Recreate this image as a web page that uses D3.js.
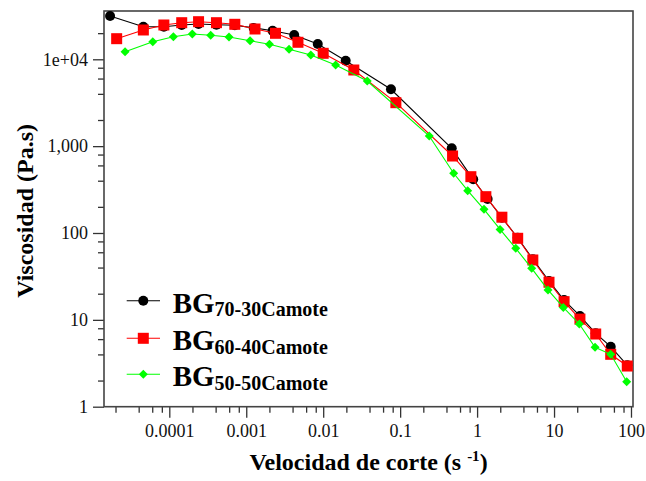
<!DOCTYPE html>
<html><head><meta charset="utf-8">
<script src="https://cdn.jsdelivr.net/npm/d3@7"></script>
<style>
body{margin:0;background:#fff;}
text{font-family:"Liberation Serif","Times New Roman",serif;}
</style></head>
<body><svg id="c" width="646" height="481"></svg>
<script>
const seriesNames = ["70-30Camote", "60-40Camote", "50-50Camote"];
const shearBlack = [1.7e-5, 4.6e-5, 8.5e-5, 1.45e-4, 2.4e-4, 4.1e-4, 7.1e-4, 1.25e-3, 2.2e-3, 4.2e-3, 8.5e-3, 0.0196, 0.076, 0.468, 0.89, 1.37, 2.1, 3.37, 5.3, 8.6, 13.5, 21.7, 34.8, 54.5, 89.5];
const viscBlack  = [31500, 23700, 23700, 24800, 25500, 25000, 24700, 23000, 21340, 19050, 15000, 9640, 4515, 944, 415, 246, 150, 88, 50, 28, 16.9, 11.1, 7.0, 4.91, 3.0];
const shearRed = [2.07e-5, 4.6e-5, 8.5e-5, 1.45e-4, 2.4e-4, 4.1e-4, 7.1e-4, 1.3e-3, 2.4e-3, 4.7e-3, 0.01, 0.025, 0.088, 0.48, 0.83, 1.3, 2.1, 3.37, 5.3, 8.6, 13.5, 21.7, 34.8, 54.5, 89.5];
const viscRed  = [17270, 21750, 24830, 26390, 27100, 26390, 25290, 22330, 19920, 15700, 11720, 7530, 3165, 770, 445, 262, 152, 86.9, 48.9, 27.1, 16.2, 10.2, 6.87, 4.01, 2.94];
const shearGreen = [2.66e-5, 6.1e-5, 1.13e-4, 1.99e-4, 3.45e-4, 5.97e-4, 1.12e-3, 2.0e-3, 3.6e-3, 6.9e-3, 0.0145, 0.0374, 0.239, 0.496, 0.755, 1.23, 1.99, 3.18, 5.12, 8.34, 13.2, 21.3, 34.1, 54.5, 88];
const viscGreen  = [12240, 15950, 18200, 19550, 18890, 18060, 16370, 14890, 13040, 11210, 8600, 5625, 1309, 487, 307, 187.5, 110, 66.6, 39.2, 22.1, 13.9, 8.96, 4.83, 4.01, 1.94];
const xTickValues = [1e-4, 1e-3, 1e-2, 0.1, 1, 10, 100];
const xTickLabels = ["0.0001", "0.001", "0.01", "0.1", "1", "10", "100"];
const yTickValues = [1, 10, 100, 1000, 10000];
const yTickLabels = ["1", "10", "100", "1,000", "1e+04"];

const svg = d3.select("#c");
const L = 104, R = 633, T = 11, B = 406.7;
const x = d3.scaleLog().domain([1.417e-5, 106.2]).range([L, R]);
const y = d3.scaleLog().domain([1, 35980]).range([B, T]);

function minors(lo, hi) {
  const out = [];
  for (let e = -6; e <= 5; e++) for (const m of [2,4,6,8]) {
    const v = m * Math.pow(10, e);
    if (v >= lo && v <= hi) out.push(v);
  }
  return out;
}
const axisColor = "#333";
const gx = svg.append("g").attr("transform", `translate(0,${B})`);
gx.call(d3.axisBottom(x).tickValues(minors(x.domain()[0], x.domain()[1])).tickSize(6).tickFormat(""));
const gx2 = svg.append("g").attr("transform", `translate(0,${B})`);
gx2.call(d3.axisBottom(x).tickValues(xTickValues).tickSize(11).tickPadding(7).tickFormat((d,i)=>xTickLabels[i]));
const gy = svg.append("g").attr("transform", `translate(${L},0)`);
gy.call(d3.axisLeft(y).tickValues(minors(1, y.domain()[1])).tickSize(6).tickFormat(""));
const gy2 = svg.append("g").attr("transform", `translate(${L},0)`);
gy2.call(d3.axisLeft(y).tickValues(yTickValues).tickSize(11).tickPadding(5).tickFormat((d,i)=>yTickLabels[i]));
svg.selectAll(".domain").remove();
svg.selectAll(".tick line").attr("stroke", axisColor).attr("stroke-width", 1.3);
svg.selectAll(".tick text").attr("font-size", 18).attr("fill", "#111")
  .attr("font-family", "Liberation Serif, Times New Roman, serif");

svg.append("rect").attr("x", L).attr("y", T).attr("width", R - L).attr("height", B - T)
  .attr("fill", "none").attr("stroke", "#444").attr("stroke-width", 1.6);

const line = d3.line().x(d => x(d[0])).y(d => y(d[1]));
const series = [
  {xs: shearBlack, ys: viscBlack, color: "#000000", shape: "circle"},
  {xs: shearRed, ys: viscRed, color: "#ff0000", shape: "square"},
  {xs: shearGreen, ys: viscGreen, color: "#00ff00", shape: "diamond"}
];
function drawMarker(g, shape, color) {
  if (shape === "circle") g.append("circle").attr("r", 5).attr("fill", color);
  else if (shape === "square") g.append("rect").attr("x", -5.5).attr("y", -5.5).attr("width", 11).attr("height", 11).attr("fill", color);
  else g.append("path").attr("d", "M0,-4.5L4.5,0L0,4.5L-4.5,0Z").attr("fill", color);
}
series.forEach(s => {
  const pts = s.xs.map((v, i) => [v, s.ys[i]]);
  svg.append("path").datum(pts).attr("d", line).attr("fill", "none").attr("stroke", s.color).attr("stroke-width", 1.1);
  pts.forEach(p => {
    const g = svg.append("g").attr("transform", `translate(${x(p[0])},${y(p[1])})`);
    drawMarker(g, s.shape, s.color);
  });
});

const legY = [300.7, 338.3, 374.3];
series.forEach((s, i) => {
  const ly = legY[i];
  svg.append("line").attr("x1", 126.7).attr("x2", 160).attr("y1", ly).attr("y2", ly).attr("stroke", s.color).attr("stroke-width", 1.1);
  const g = svg.append("g").attr("transform", `translate(143.3,${ly})`);
  drawMarker(g, s.shape, s.color);
  const t = svg.append("text").attr("x", 172.7).attr("y", ly + 12).attr("font-weight", "bold").attr("font-size", 29).attr("fill", "#000");
  t.append("tspan").text("BG");
  t.append("tspan").attr("font-size", 20).attr("dy", 3.5).text(seriesNames[i]);
});

svg.append("text").attr("x", (L + R) / 2).attr("y", 470).attr("text-anchor", "middle")
  .attr("font-weight", "bold").attr("font-size", 24).attr("fill", "#000")
  .call(t => {
    t.append("tspan").text("Velocidad de corte (s ");
    t.append("tspan").attr("font-size", 15).attr("dy", -9).text("-1");
    t.append("tspan").attr("dy", 9).text(")");
  });
svg.append("text").attr("transform", `translate(33,${(T + B) / 2 + 2}) rotate(-90)`).attr("text-anchor", "middle")
  .attr("font-weight", "bold").attr("font-size", 24).attr("fill", "#000").text("Viscosidad (Pa.s)");
</script></body></html>
